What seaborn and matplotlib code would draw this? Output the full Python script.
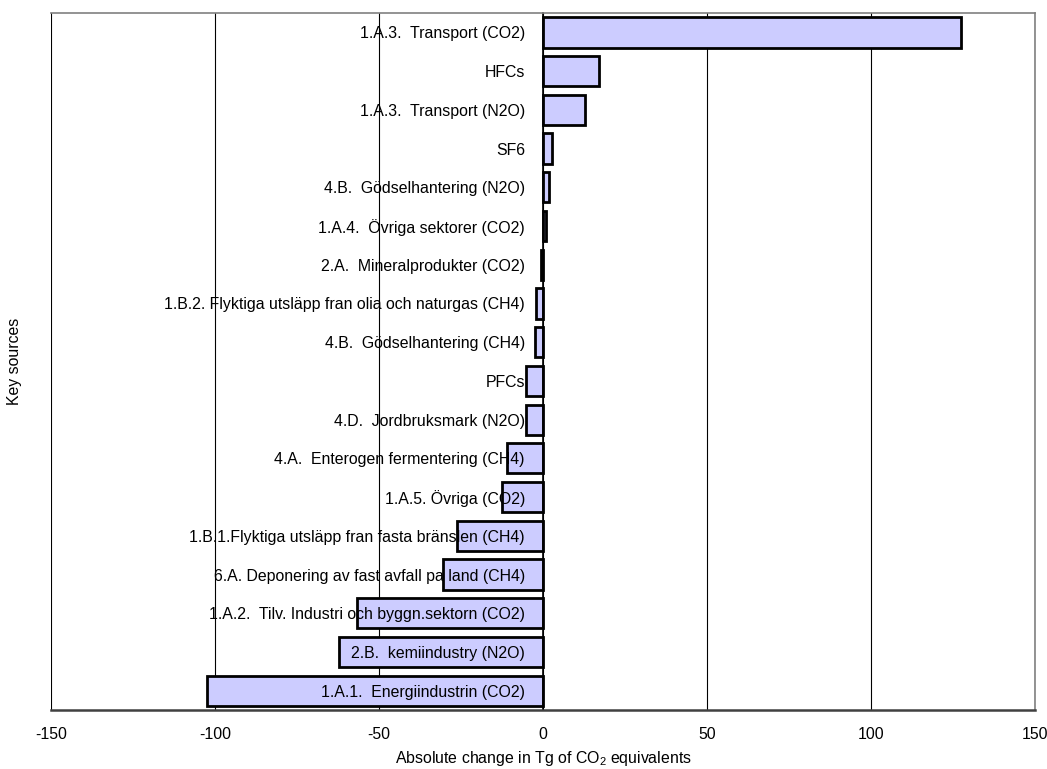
import numpy as np
import pandas as pd
import matplotlib
matplotlib.use("Agg")
import matplotlib.pyplot as plt
import seaborn as sns

# Key sources and their absolute change (Tg CO2 eq.), top to bottom
sources = [
    "1.A.3.  Transport (CO2)",
    "HFCs",
    "1.A.3.  Transport (N2O)",
    "SF6",
    "4.B.  Gödselhantering (N2O)",
    "1.A.4.  Övriga sektorer (CO2)",
    "2.A.  Mineralprodukter (CO2)",
    "1.B.2. Flyktiga utsläpp fran olia och naturgas (CH4)",
    "4.B.  Gödselhantering (CH4)",
    "PFCs",
    "4.D.  Jordbruksmark (N2O)",
    "4.A.  Enterogen fermentering (CH4)",
    "1.A.5. Övriga (CO2)",
    "1.B.1.Flyktiga utsläpp fran fasta bränslen (CH4)",
    "6.A. Deponering av fast avfall pa land (CH4)",
    "1.A.2.  Tilv. Industri och byggn.sektorn (CO2)",
    "2.B.  kemiindustry (N2O)",
    "1.A.1.  Energiindustrin (CO2)",
]
change = [127.3, 17.2, 12.8, 2.9, 1.8, 1.0, -0.5, -2.0, -2.4, -5.2,
          -5.3, -11.1, -12.6, -26.3, -30.4, -56.8, -62.2, -102.3]

x_ticks = [-150, -100, -50, 0, 50, 100, 150]

df = pd.DataFrame({"source": sources, "change": change})

sns.set_style("white")
plt.rcParams["font.family"] = ["Liberation Sans", "DejaVu Sans"]
plt.rcParams["mathtext.fontset"] = "custom"
plt.rcParams["mathtext.rm"] = "Liberation Sans"
plt.rcParams["text.color"] = "black"
plt.rcParams["axes.labelcolor"] = "black"

fs = 11.4

fig = plt.figure(figsize=(10.47, 7.69), dpi=100)
ax = fig.add_axes([0.0487, 0.0767, 0.9398, 0.9063])

sns.barplot(data=df, x="change", y="source", orient="h", color="#ccccff",
            saturation=1, edgecolor="black", linewidth=2, width=0.78, ax=ax)

ax.set_xlim(-150, 150)
ax.set_xticks(x_ticks)
ax.set_xticklabels([str(t) for t in x_ticks], fontsize=fs)

# vertical gridlines behind the bars, category labels above them
ax.set_axisbelow(True)
ax.grid(axis="x", color="black", linewidth=0.8)
ax.grid(axis="y", visible=False)
ax.yaxis.set_zorder(3)

# category axis sits at zero, labels to its left
ax.spines["left"].set_position(("data", 0))
ax.spines["left"].set_color("black")
ax.spines["left"].set_linewidth(1.2)
ax.tick_params(axis="y", which="major", length=0, pad=13, labelsize=fs,
               labelcolor="black")
ax.set_yticks(np.arange(-0.5, len(sources), 1), minor=True)
ax.tick_params(axis="y", which="minor", direction="in", length=4,
               width=1, color="black")
ax.axvline(-150, color="black", linewidth=1.2, zorder=0)

for side in ["top", "right"]:
    ax.spines[side].set_color("#808080")
    ax.spines[side].set_linewidth(1.2)
ax.spines["bottom"].set_color("#404040")
ax.spines["bottom"].set_linewidth(1.8)
ax.tick_params(axis="x", direction="out", length=5, width=1,
               color="black", pad=7, labelcolor="black")

ax.set_xlabel("Absolute change in Tg of CO$_2$ equivalents", fontsize=fs,
              labelpad=5)
ax.set_ylabel("")
fig.text(0.0143, 0.53, "Key sources", rotation=90, fontsize=fs,
         ha="center", va="center")

fig.savefig("out.png", dpi=100)
